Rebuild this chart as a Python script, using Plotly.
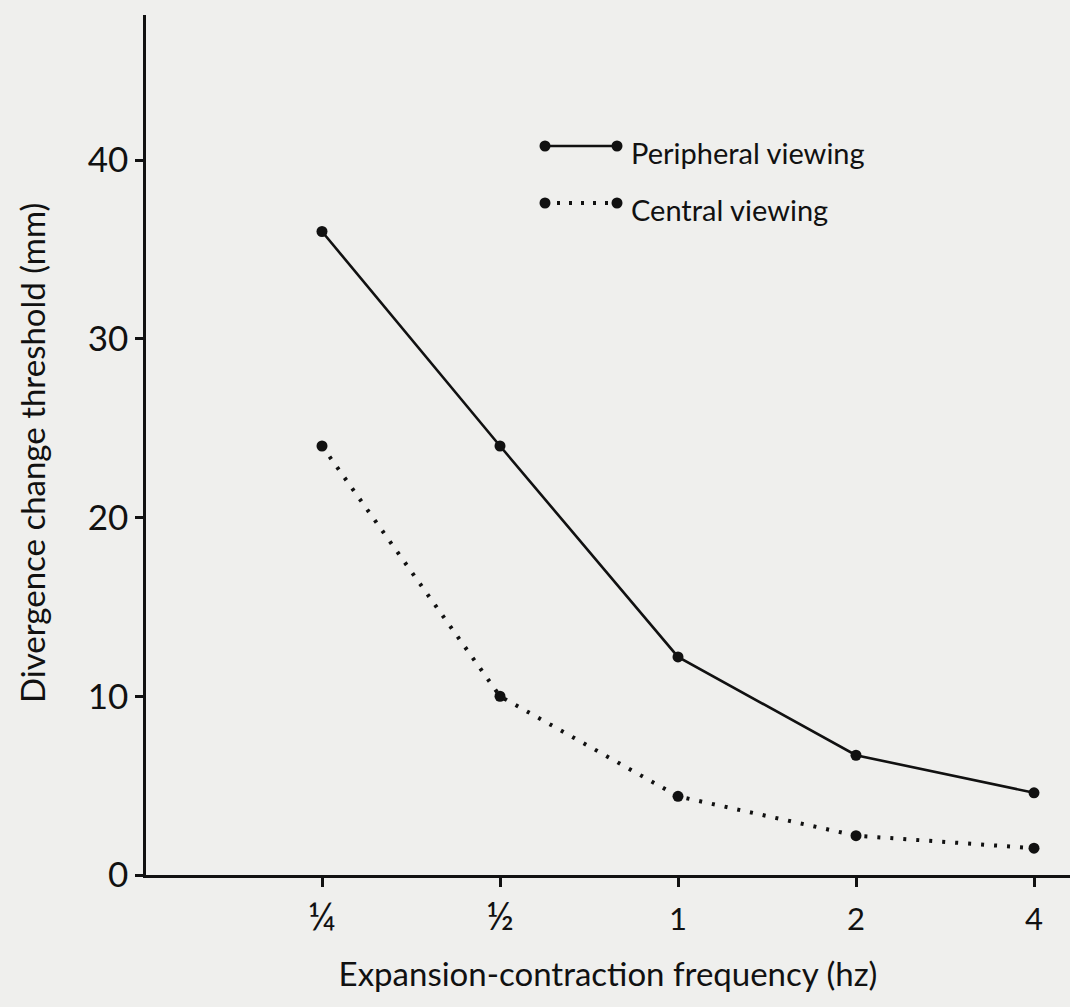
import plotly.graph_objects as go

# ---- data ----
freq_labels = ["¼", "½", "1", "2", "4"]
freq_index = [0, 1, 2, 3, 4]
peripheral = [36.0, 24.0, 12.2, 6.7, 4.6]
central = [24.0, 10.0, 4.4, 2.2, 1.5]
y_ticks = [0, 10, 20, 30, 40]

FONT = "Lato, 'Noto Sans', sans-serif"
INK = "#111111"
BG = "#efefed"

W, H = 1070, 1007
ML, MR, MT, MB = 146, 0, 15, 132
PW, PH = W - ML - MR, H - MT - MB


def px(x):
    return (x - ML) / PW


def py(y):
    return (H - MB - y) / PH


def tick_text(lbl):
    # vulgar-fraction glyphs render small; enlarge them a little
    if lbl in ("¼", "½"):
        return "<span style='font-size:38px'>" + lbl + "</span>"
    return lbl


fig = go.Figure()
fig.add_trace(go.Scatter(
    x=freq_index, y=peripheral, mode="lines+markers", name="Peripheral viewing",
    line=dict(color=INK, width=2.6),
    marker=dict(color=INK, size=11), showlegend=False, cliponaxis=False))
fig.add_trace(go.Scatter(
    x=freq_index, y=central, mode="lines+markers", name="Central viewing",
    line=dict(color=INK, width=4, dash="3px,10px"),
    marker=dict(color=INK, size=11), showlegend=False, cliponaxis=False))

# legend keys (decoration)
shapes = []
annotations = []
for (label, ly, dash, lw) in [("Peripheral viewing", 146, "solid", 2.6),
                              ("Central viewing", 203, "3px,9px", 4)]:
    shapes.append(dict(type="line", xref="paper", yref="paper",
                       x0=px(545), x1=px(617), y0=py(ly), y1=py(ly),
                       line=dict(color=INK, width=lw, dash=dash)))
    for cx in (545, 617):
        shapes.append(dict(type="circle", xref="paper", yref="paper",
                           x0=px(cx - 5.5), x1=px(cx + 5.5),
                           y0=py(ly - 5.5), y1=py(ly + 5.5),
                           fillcolor=INK, line=dict(color=INK, width=0)))
    annotations.append(dict(xref="paper", yref="paper", x=px(629), y=py(ly + 6),
                            text=label, showarrow=False, xanchor="left",
                            yanchor="middle",
                            font=dict(family=FONT, size=29, color=INK)))

# y-axis title placed as an annotation to match its vertical position
annotations.append(dict(xref="paper", yref="paper", x=px(32), y=py(453),
                        text="Divergence change threshold (mm)", textangle=-90,
                        showarrow=False, xanchor="center", yanchor="middle",
                        font=dict(family=FONT, size=33, color=INK)))

fig.update_layout(
    width=W, height=H,
    margin=dict(l=ML, r=MR, t=MT, b=MB),
    paper_bgcolor=BG, plot_bgcolor=BG,
    shapes=shapes, annotations=annotations,
    font=dict(family=FONT, color=INK),
    xaxis=dict(
        range=[(146 - 322) / 178, (1070 - 322) / 178],
        tickmode="array", tickvals=freq_index,
        ticktext=[tick_text(t) for t in freq_labels],
        ticks="outside", ticklen=9, tickwidth=2.5, tickcolor=INK,
        showline=True, linecolor=INK, linewidth=2.5,
        showgrid=False, zeroline=False,
        ticklabelstandoff=6,
        tickfont=dict(family=FONT, size=31, color=INK),
        title=dict(text="Expansion-contraction frequency (hz)",
                   font=dict(family=FONT, size=33, color=INK), standoff=26),
    ),
    yaxis=dict(
        range=[0, (875 - 15) / 17.875],
        tickmode="array", tickvals=y_ticks,
        ticks="outside", ticklen=8, tickwidth=2.5, tickcolor=INK,
        showline=True, linecolor=INK, linewidth=2.5,
        showgrid=False, zeroline=False,
        tickfont=dict(family=FONT, size=35, color=INK),
    ),
)

fig.write_html("out.html")
